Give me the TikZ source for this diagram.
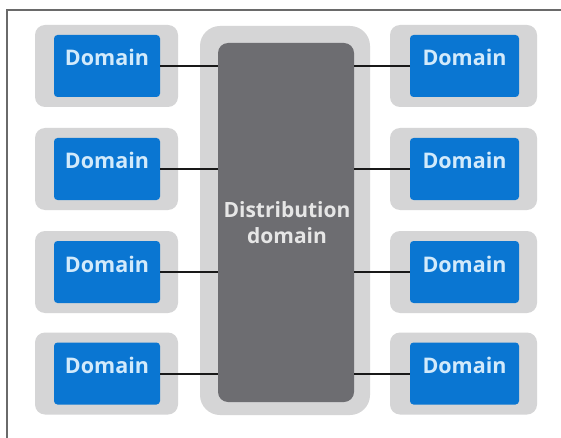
\documentclass[tikz,border=0pt]{standalone}
\usepackage{fontspec}
\setmainfont{Open Sans}
\definecolor{outergray}{HTML}{D5D5D6}
\definecolor{dombl}{HTML}{0A76D2}
\definecolor{domtxt}{HTML}{D2EAFB}
\definecolor{distgray}{HTML}{6D6D71}
\definecolor{disttxt}{HTML}{E6E6E6}
\definecolor{framegray}{HTML}{6A6A6A}
\tikzset{
  outerbox/.style={fill=outergray, draw=none, rounded corners=10pt, minimum width=143pt, minimum height=82pt, inner sep=0pt},
  dombox/.style={fill=dombl, draw=none, rounded corners=3.5pt, minimum width=106pt, minimum height=62pt, inner sep=0pt,
    text height=31pt, text depth=31pt, text=domtxt, font=\fontsize{21.5}{26}\selectfont\bfseries},
  link/.style={draw=black!90, line width=2pt},
}
\begin{document}
\begin{tikzpicture}[x=1pt,y=-1pt]
\useasboundingbox (0,0) rectangle (561,438);
\fill[white] (0,0) rectangle (561,438);
\draw[framegray, line width=1.2pt] (7,438) -- (7,10) -- (561,10);
% center
\node[fill=outergray, rounded corners=20pt, minimum width=170pt, minimum height=389pt, inner sep=0pt] (cout) at (285,220.5) {};
\node[fill=distgray, rounded corners=10pt, minimum width=136pt, minimum height=359pt, inner sep=0pt] (dist) at (286,222.5) {};
\node[text=disttxt, font=\fontsize{21}{26}\selectfont\bfseries, align=center, anchor=base] (dlab) at (287,243) {Distribution\\domain};
% rows
\foreach \i/\y in {1/66,2/169,3/272,4/373.5}{
  \node[outerbox] (lo\i) at (106.5,\y) {};
  \node[dombox] (l\i) at (107,\y) {Domain};
  \node[outerbox, minimum width=147pt] (ro\i) at (463.5,\y) {};
  \node[dombox, minimum width=109pt] (r\i) at (464.5,\y) {Domain};
  \draw[link] (l\i.east) -- (l\i.east -| dist.west);
  \draw[link] (r\i.west) -- (r\i.west -| dist.east);
}
\end{tikzpicture}
\end{document}
